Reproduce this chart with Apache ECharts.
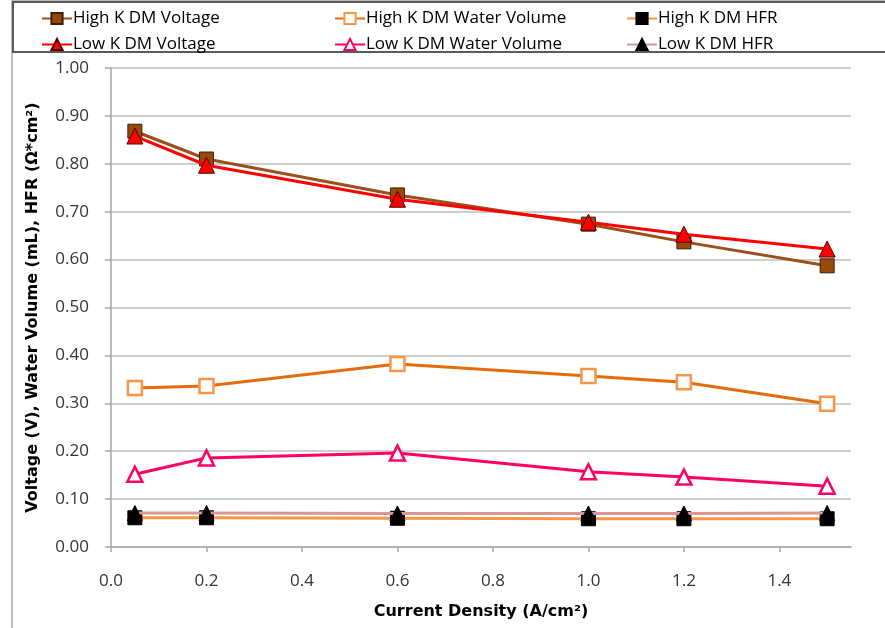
<!DOCTYPE html>
<html>
<head>
<meta charset="utf-8">
<script src="https://cdn.jsdelivr.net/npm/echarts@6/dist/echarts.min.js"></script>
<style>
  html, body { margin: 0; padding: 0; background: #fff; }
  #chart { width: 885px; height: 628px; }
</style>
</head>
<body>
<div id="chart"></div>
<script>
// Current density (A/cm²) at which each measurement was taken
const currentDensity = [0.05, 0.2, 0.6, 1.0, 1.2, 1.5];

// Measured values per membrane type
const highKVoltage = [0.868, 0.810, 0.735, 0.674, 0.637, 0.587];
const lowKVoltage = [0.858, 0.797, 0.726, 0.678, 0.653, 0.622];
const highKWater = [0.332, 0.336, 0.382, 0.357, 0.344, 0.299];
const lowKWater = [0.152, 0.186, 0.196, 0.157, 0.146, 0.127];
const highKHFR = [0.061, 0.061, 0.060, 0.059, 0.059, 0.059];
const lowKHFR = [0.071, 0.071, 0.070, 0.070, 0.070, 0.071];

const seriesNames = [
  'High K DM Voltage', 'High K DM Water Volume', 'High K DM HFR',
  'Low K DM Voltage', 'Low K DM Water Volume', 'Low K DM HFR'
];

const xTicks = [0, 0.2, 0.4, 0.6, 0.8, 1.0, 1.2, 1.4];

const FONT = 'Open Sans';
const TITLE_FONT = 'DejaVu Sans';

function pairs(values) {
  return currentDensity.map((x, i) => [x, values[i]]);
}

function lineSeries(name, values, lineColor, symbol, size, fill, border, borderWidth, z) {
  return {
    name: name,
    type: 'line',
    data: pairs(values),
    symbol: symbol,
    symbolSize: size,
    showAllSymbol: true,
    z: z,
    lineStyle: { color: lineColor, width: 3 },
    itemStyle: { color: fill, borderColor: border, borderWidth: borderWidth },
    emphasis: { disabled: true },
    animation: false
  };
}

// One legend block per entry so the three columns line up
const legendPos = [
  { left: 36, top: 5 }, { left: 329, top: 5 }, { left: 621, top: 5 },
  { left: 36, top: 31 }, { left: 329, top: 31 }, { left: 621, top: 31 }
];
const legends = seriesNames.map((n, i) => ({
  data: [n],
  left: legendPos[i].left,
  top: legendPos[i].top,
  itemWidth: 30,
  itemHeight: 14,
  itemGap: 2,
  selectedMode: false,
  textStyle: { fontFamily: FONT, fontSize: 17, color: '#000', padding: [0, 0, 0, -4] }
}));

const chart = echarts.init(document.getElementById('chart'), null, { renderer: 'canvas' });

chart.setOption({
  animation: false,
  backgroundColor: '#fff',
  graphic: [
    {
      type: 'rect', z: 0, silent: true,
      shape: { x: 12, y: 1, width: 900, height: 700 },
      style: { fill: 'none', stroke: '#A6A6A6', lineWidth: 1.5 }
    },
    {
      type: 'rect', z: 0, silent: true,
      shape: { x: 13, y: 2, width: 900, height: 50 },
      style: { fill: 'none', stroke: '#5A5A5A', lineWidth: 2 }
    }
  ],
  legend: legends,
  grid: { left: 111, right: 34, top: 68, bottom: 81, containLabel: false },
  xAxis: {
    type: 'value',
    min: 0,
    max: 1.55,
    interval: 0.2,
    name: 'Current Density (A/cm²)',
    nameLocation: 'middle',
    nameGap: 57,
    nameTextStyle: { fontFamily: TITLE_FONT, fontSize: 16, fontWeight: 'bold', color: '#000' },
    axisLine: { show: true, lineStyle: { color: '#A6A6A6', width: 1.5 } },
    axisTick: { show: true, length: 5, inside: false, customValues: xTicks, lineStyle: { color: '#A6A6A6', width: 1.5 } },
    axisLabel: {
      customValues: xTicks,
      margin: 26,
      fontFamily: FONT, fontSize: 17, color: '#333',
      formatter: v => v.toFixed(1)
    },
    splitLine: { show: false }
  },
  yAxis: {
    type: 'value',
    min: 0,
    max: 1,
    interval: 0.1,
    name: 'Voltage (V), Water Volume (mL), HFR (Ω*cm²)',
    nameLocation: 'middle',
    nameGap: 70,
    nameTextStyle: { fontFamily: TITLE_FONT, fontSize: 16, fontWeight: 'bold', color: '#000' },
    axisLine: { show: true, lineStyle: { color: '#A6A6A6', width: 1.5 } },
    axisTick: { show: true, length: 6, inside: false, lineStyle: { color: '#A6A6A6', width: 1.5 } },
    axisLabel: {
      margin: 22,
      fontFamily: FONT, fontSize: 17, color: '#333',
      formatter: v => v.toFixed(2)
    },
    splitLine: { show: true, lineStyle: { color: '#BFBFBF', width: 1.5 } }
  },
  series: [
    lineSeries('High K DM Voltage', highKVoltage, '#99501A', 'rect', 14, '#984807', '#3a2010', 1, 3),
    lineSeries('High K DM Water Volume', highKWater, '#E46C0A', 'rect', 14, '#ffffff', '#F79646', 2.5, 3),
    lineSeries('High K DM HFR', highKHFR, '#F79646', 'rect', 14, '#000000', '#000000', 1, 5),
    lineSeries('Low K DM Voltage', lowKVoltage, '#FF0000', 'triangle', 16, '#FF0000', '#5a0000', 1, 4),
    lineSeries('Low K DM Water Volume', lowKWater, '#FF0066', 'triangle', 15, '#ffffff', '#FF0066', 2.5, 4),
    lineSeries('Low K DM HFR', lowKHFR, '#D99694', 'triangle', 15, '#000000', '#000000', 1, 6)
  ]
});
</script>
</body>
</html>
